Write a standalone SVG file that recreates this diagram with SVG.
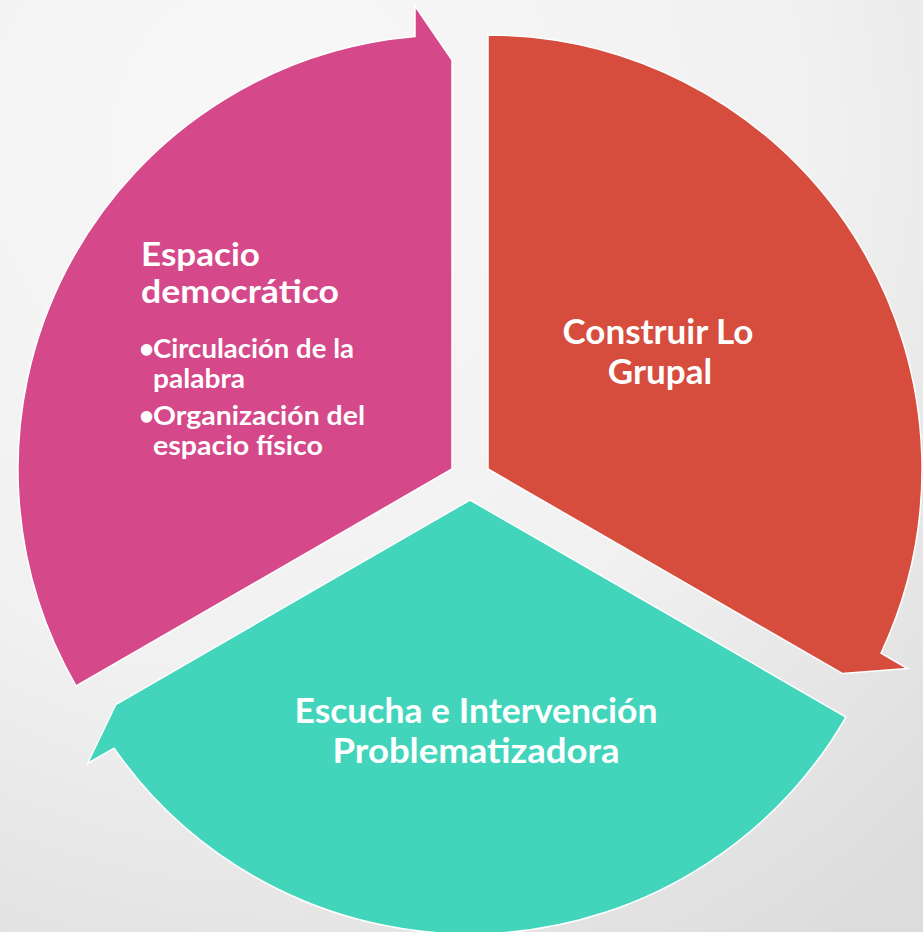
<svg xmlns="http://www.w3.org/2000/svg" width="923" height="932" viewBox="0 0 923 932">
  <defs>
    <radialGradient id="bg" cx="0.3" cy="0.15" r="1.05">
      <stop offset="0" stop-color="#f8f8f8"/>
      <stop offset="0.55" stop-color="#f1f1f1"/>
      <stop offset="1" stop-color="#dcdcdc"/>
    </radialGradient>
  </defs>
  <style>
    .seg { stroke: #ffffff; stroke-width: 1.5; stroke-linejoin: miter; }
    .t { font-family: Lato, "Open Sans", "Liberation Sans", sans-serif; font-weight: 700; fill: #ffffff; }
    .big { font-size: 35px; text-anchor: middle; }
    .head { font-size: 33px; }
    .bul { font-size: 26px; }
  </style>
  <rect x="0" y="0" width="923" height="932" fill="url(#bg)"/>

  <g id="node-espacio">
    <path class="seg" fill="#D5488A" d="M452,469 L76.1,686 A434,434 0 0 1 415,36.6 L415,6 L452,60 Z"/>
    <text class="t head" x="141" y="266" textLength="119" lengthAdjust="spacingAndGlyphs">Espacio</text>
    <text class="t head" x="141" y="303" textLength="198" lengthAdjust="spacingAndGlyphs">democrático</text>
    <text class="t bul" x="139" y="358">•</text>
    <text class="t bul" x="153" y="358" textLength="201" lengthAdjust="spacingAndGlyphs">Circulación de la</text>
    <text class="t bul" x="153" y="388" textLength="92" lengthAdjust="spacingAndGlyphs">palabra</text>
    <text class="t bul" x="139" y="425">•</text>
    <text class="t bul" x="153" y="425" textLength="212" lengthAdjust="spacingAndGlyphs">Organización del</text>
    <text class="t bul" x="153" y="455" textLength="170" lengthAdjust="spacingAndGlyphs">espacio físico</text>
  </g>

  <g id="node-construir">
    <path class="seg" fill="#D64C3D" d="M488,469 L488,35 A434,434 0 0 1 881,653.2 L907.5,668.5 L842.2,673.5 Z"/>
    <text class="t big" x="658" y="344">Construir Lo</text>
    <text class="t big" x="660" y="384">Grupal</text>
  </g>

  <g id="node-escucha">
    <path class="seg" fill="#42D5BC" d="M470,500 L845.9,717 A434,434 0 0 1 114,748.2 L87.5,763.5 L115.8,704.5 Z"/>
    <text class="t big" x="476" y="723" textLength="363" lengthAdjust="spacingAndGlyphs">Escucha e Intervención</text>
    <text class="t big" x="476" y="763" textLength="287" lengthAdjust="spacingAndGlyphs">Problematizadora</text>
  </g>

  <g id="connectors"></g>
</svg>
